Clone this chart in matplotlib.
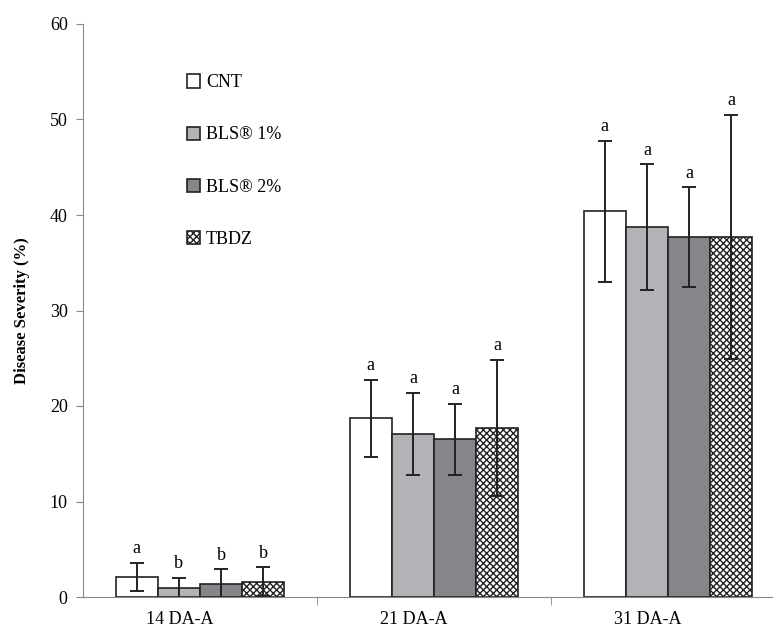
import matplotlib.pyplot as plt
import numpy as np

plt.rcParams['font.family'] = ['Liberation Serif', 'DejaVu Serif']
plt.rcParams['hatch.linewidth'] = 1.0

groups = ['14 DA-A', '21 DA-A', '31 DA-A']
series = ['CNT', 'BLS\u00ae 1%', 'BLS\u00ae 2%', 'TBDZ']

cnt = [2.1, 18.7, 40.4]
bls1 = [0.9, 17.1, 38.7]
bls2 = [1.4, 16.5, 37.7]
tbdz = [1.6, 17.7, 37.7]

cnt_err = [1.5, 4.0, 7.4]
bls1_err = [1.1, 4.3, 6.6]
bls2_err = [1.5, 3.7, 5.2]
tbdz_err = [1.5, 7.1, 12.8]

letters = [['a', 'a', 'a'], ['b', 'a', 'a'], ['b', 'a', 'a'], ['b', 'a', 'a']]

values = [cnt, bls1, bls2, tbdz]
errors = [cnt_err, bls1_err, bls2_err, tbdz_err]
faces = ['white', '#b4b2b6', '#868589', 'white']
hatches = [None, None, None, 'xxxxx']

fig = plt.figure(figsize=(7.73, 6.3), dpi=100)
ax = fig.add_axes([83/773, 33/630, 702/773, 573/630])

x = np.arange(len(groups))
w = 0.18
for i in range(4):
    pos = x + (i - 1.5) * w
    ax.bar(pos, values[i], w, color=faces[i], edgecolor='#222222', linewidth=1.2,
           hatch=hatches[i], label=series[i])
    ax.errorbar(pos, values[i], yerr=errors[i], fmt='none', ecolor='#222222',
                elinewidth=1.4, capsize=5, capthick=1.4)
    for p, v, e, t in zip(pos, values[i], errors[i], letters[i]):
        ax.text(p, v + e + 0.6, t, ha='center', va='bottom', fontsize=13)

ax.set_xlim(-0.5, 2.5)
ax.set_ylim(0, 60)
ax.set_yticks(range(0, 61, 10))
# category labels sit a little left of the group centres, as in the original
ax.set_xticks(x - 0.085)
ax.set_xticklabels(groups, fontsize=13)
ax.tick_params(axis='x', length=0, pad=10)
ax.set_xticks([0.5, 1.5], minor=True)
ax.tick_params(axis='x', which='minor', length=6, color='#888888')
ax.tick_params(axis='y', length=5, color='#888888', labelsize=13, pad=6)

for s in ['top', 'right']:
    ax.spines[s].set_visible(False)
for s in ['left', 'bottom']:
    ax.spines[s].set_color('#888888')
ax.set_ylabel('Disease Severity (%)', fontsize=12, fontweight='bold', labelpad=14)

leg = ax.legend(loc='upper left', bbox_to_anchor=(0.135, 0.928), frameon=False,
                fontsize=13, handlelength=0.75, handleheight=0.75,
                handletextpad=0.3, labelspacing=1.95, borderpad=0)

plt.savefig('out.png', dpi=100)
